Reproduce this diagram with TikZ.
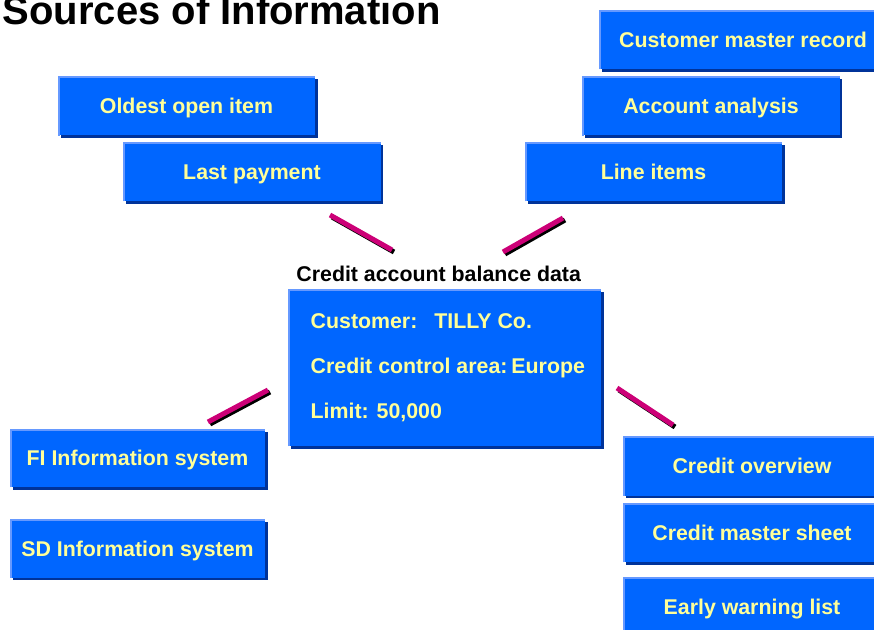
\documentclass[tikz,border=0pt]{standalone}
\usepackage{fontspec}
\setmainfont{Liberation Sans}
\usetikzlibrary{positioning,shadows}
\definecolor{boxblue}{RGB}{0,102,255}
\definecolor{boxlight}{RGB}{102,153,255}
\definecolor{boxdark}{RGB}{0,51,153}
\definecolor{txtyellow}{RGB}{255,255,153}
\definecolor{linkpink}{RGB}{204,0,119}
\tikzset{
	lbl/.style={font=\bfseries\fontsize{16}{19}\selectfont},
	srcbox/.style={lbl, fill=boxblue, text=txtyellow, inner sep=0pt,
		minimum width=192.75pt, minimum height=44.25pt, text height=11.5pt, text depth=0pt,
		drop shadow={shadow xshift=2pt, shadow yshift=-2pt, fill=boxdark, opacity=1}},
	link/.style={draw=linkpink, line width=3.75pt,
		preaction={draw=black, line width=3.75pt, transform canvas={xshift=1.5pt, yshift=-1.5pt}}}
}

\begin{document}
\begin{tikzpicture}[x=0.75pt, y=-0.75pt]
	\clip (0,0) rectangle (874,630); % page in pixels of the slide
	
	%--- Title ---
	\node[anchor=base west, font=\bfseries\fontsize{30}{36}\selectfont] (title) at (-2,25) {Sources of Information};
	
	%--- Sources above (left and right) ---
	\node[srcbox] (oldest) at (186.5,106) {Oldest open item};
	\node[srcbox] (lastpay) at (252,171.5) {Last payment};
	\node[srcbox, minimum width=216pt] (custrec) at (743,39.5) {Customer master record};
	\node[srcbox] (accana) at (711,106) {Account analysis};
	\node[srcbox] (lineitems) at (653.5,171.5) {Line items};
	
	%--- Information systems (left) ---
	\node[srcbox, minimum width=191.25pt, minimum height=43.5pt] (fiinfo) at (137.5,458) {FI Information system};
	\node[srcbox, minimum width=191.25pt, minimum height=43.5pt, below=24pt of fiinfo] (sdinfo) {SD Information system};
	
	%--- Reports (right) ---
	\node[srcbox] (credov) at (752,466) {Credit overview};
	\node[srcbox, below=5.25pt of credov] (credsheet) {Credit master sheet};
	\node[srcbox, below=11.25pt of credsheet] (earlywarn) {Early warning list};
	
	%--- Credit account balance data (centre) ---
	\node[srcbox, minimum width=234.75pt, minimum height=117.75pt] (balance) at (444.5,367.5) {};
	\node[lbl, anchor=base west] (baltitle) at ([shift={(4,-7)}]balance.north west) {Credit account balance data};
	\node[lbl, text=txtyellow, anchor=base west] (cust) at (306,329) {Customer:\hspace{12.75pt}TILLY Co.};
	\node[lbl, text=txtyellow, anchor=base west] (area) at (306,374) {Credit control area:\hspace{3pt}Europe};
	\node[lbl, text=txtyellow, anchor=base west] (limit) at (306,419) {Limit: 50,000};
	
	% light top and left edge of every box
	\foreach \n in {oldest,lastpay,custrec,accana,lineitems,fiinfo,sdinfo,credov,credsheet,earlywarn,balance}{
		\draw[boxlight, line width=1.5pt] ([xshift=.75pt]\n.south west) -- ([shift={(.75pt,-.75pt)}]\n.north west) -- ([yshift=-.75pt]\n.north east);}
	
	%--- Connector strokes ---
	\coordinate (l1a) at (330,215); \coordinate (l1b) at (392,250);
	\coordinate (l2a) at (503,252); \coordinate (l2b) at (563,218);
	\coordinate (l3a) at (617,388); \coordinate (l3b) at (673,425);
	\coordinate (l4a) at (208,422); \coordinate (l4b) at (268,390);
	\foreach \k in {1,...,4}{
		\draw[link] (l\k a) -- (l\k b);}
\end{tikzpicture}
\end{document}
